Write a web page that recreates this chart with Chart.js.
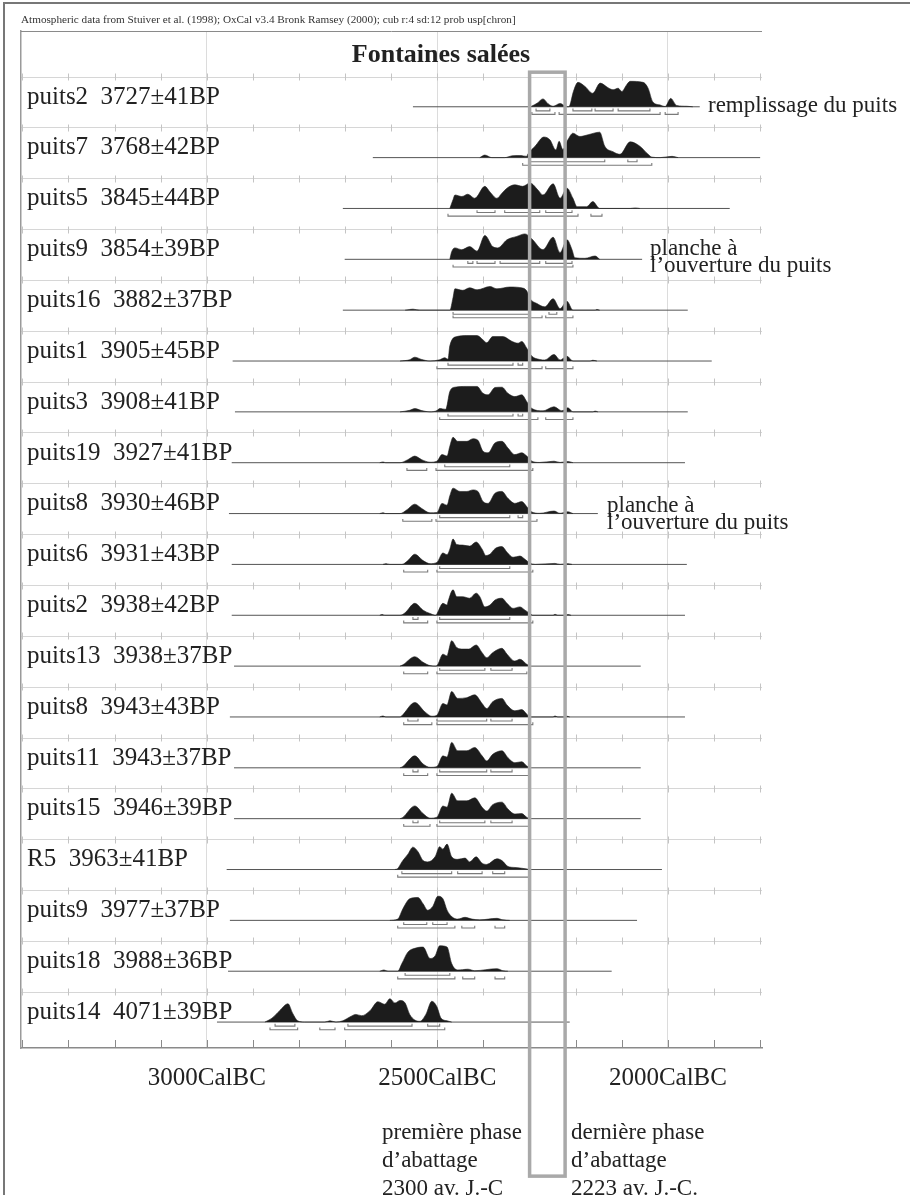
<!DOCTYPE html>
<html>
<head>
<meta charset="utf-8">
<script src="https://cdn.jsdelivr.net/npm/chart.js@4.4.1/dist/chart.umd.min.js"></script>
<style>
body { margin: 0; background: #fff; }
#wrap { position: relative; width: 910px; height: 1195px; overflow: hidden; font-family: "Liberation Serif", "Times New Roman", serif; color: #222; }
#edge { position: absolute; left: 3px; top: 2px; width: 1000px; height: 1300px; border-left: 2px solid #777; border-top: 2px solid #777; }
#chart { position: absolute; left: 0; top: 0; }
.t { position: absolute; white-space: nowrap; line-height: 1; }
.two { position: absolute; white-space: nowrap; font-size: 23px; line-height: 17px; }
.low { position: absolute; white-space: nowrap; font-size: 23px; line-height: 28px; }
</style>
</head>
<body>
<div id="wrap">
  <div id="edge"></div>
  <canvas id="chart" width="910" height="1195"></canvas>
  <div class="t" style="left:21px;top:14px;font-size:11.2px;color:#333;">Atmospheric data from Stuiver et al. (1998); OxCal v3.4 Bronk Ramsey (2000); cub r:4 sd:12 prob usp[chron]</div>
  <div class="t" style="left:441px;top:41px;font-size:26px;font-weight:bold;transform:translateX(-50%);">Fontaines salées</div>
  <div class="t" style="left:708px;top:93px;font-size:23px;">remplissage du puits</div>
  <div class="two" style="left:650px;top:239px;">planche à<br>l’ouverture du puits</div>
  <div class="two" style="left:607px;top:496px;">planche à<br>l’ouverture du puits</div>
  <div class="low" style="left:382px;top:1118px;">première phase<br>d’abattage<br>2300 av. J.-C</div>
  <div class="low" style="left:571px;top:1118px;">dernière phase<br>d’abattage<br>2223 av. J.-C.</div>
</div>
<script>
/* rows, top to bottom */
const rowNames = ['puits2', 'puits7', 'puits5', 'puits9', 'puits16', 'puits1', 'puits3', 'puits19', 'puits8', 'puits6',
                  'puits2', 'puits13', 'puits8', 'puits11', 'puits15', 'R5', 'puits9', 'puits18', 'puits14'];
const rowDates = ['3727±41BP', '3768±42BP', '3845±44BP', '3854±39BP', '3882±37BP', '3905±45BP', '3908±41BP', '3927±41BP', '3930±46BP', '3931±43BP',
                  '3938±42BP', '3938±37BP', '3943±43BP', '3943±37BP', '3946±39BP', '3963±41BP', '3977±37BP', '3988±36BP', '4071±39BP'];

/* extent of the thin line of each row (cal BC) */
const lineFrom = [2553, 2640, 2705, 2701, 2705, 2944, 2939, 2946, 2952, 2946, 2946, 2941, 2950, 2941, 2941, 2957, 2950, 2954, 2978];
const lineTo   = [1931, 1800, 1866, 2056, 1957, 1905, 1957, 1963, 2152, 1959, 1963, 2059, 1963, 2059, 2059, 2013, 2067, 2122, 2213];

/* calibrated distributions: [year BC, relative probability] */
const curve01 = [[2300,0],[2296,0.02],[2283,0.15],[2271,0.31],[2260,0.12],[2249,0.02],[2234,0.13],[2222,0.02],[2217,0],[2213,0.05],[2205,0.6],[2195,0.96],[2180,0.8],[2163,0.53],[2147,0.93],[2130,0.75],[2119,0.67],[2108,0.73],[2100,0.6],[2090,0.85],[2082,1.0],[2054,0.96],[2043,0.73],[2033,0.2],[2017,0.07],[2006,0.01],[1994,0.33],[1981,0.05],[1959,0.02],[1946,0]];
const curve02 = [[2408,0],[2397,0.1],[2382,0],[2354,0],[2338,0.07],[2321,0.08],[2306,0.05],[2304,0.13],[2288,0.45],[2269,0.81],[2256,0.7],[2243,0.3],[2236,0.64],[2228,0.32],[2217,0.7],[2206,0.96],[2191,0.83],[2173,0.9],[2148,1.0],[2137,0.45],[2119,0.23],[2104,0.13],[2082,0.62],[2061,0.45],[2043,0.13],[2035,0.02],[2017,0],[1991,0.05],[1978,0]];
const curve03 = [[2473,0],[2466,0.35],[2462,0.53],[2447,0.47],[2434,0.56],[2419,0.4],[2397,0.87],[2386,0.65],[2371,0.4],[2360,0.6],[2349,0.8],[2332,0.93],[2315,0.87],[2299,1.0],[2282,0.73],[2271,0.53],[2249,0.97],[2234,0.4],[2219,0.8],[2206,0.4],[2197,0.07],[2176,0.07],[2163,0.27],[2148,0],[2082,0],[2071,0.02],[2061,0]];
const curve04 = [[2473,0],[2469,0.3],[2462,0.45],[2447,0.38],[2430,0.5],[2414,0.32],[2397,0.94],[2380,0.5],[2369,0.45],[2349,0.77],[2328,0.9],[2310,1.0],[2295,0.8],[2271,0.38],[2249,0.87],[2234,0.26],[2219,0.77],[2208,0.38],[2202,0.06],[2180,0.04],[2158,0.13],[2148,0]];
const curve05 = [[2570,0],[2553,0.04],[2538,0],[2473,0],[2466,0.5],[2462,0.84],[2445,0.78],[2430,0.88],[2414,0.8],[2386,0.93],[2371,0.84],[2343,0.91],[2315,0.87],[2306,0.75],[2299,0.45],[2284,0.26],[2267,0.13],[2249,0.45],[2234,0.06],[2219,0.35],[2206,0],[2158,0],[2154,0.03],[2148,0]];
const curve06 = [[2581,0],[2560,0.05],[2549,0.15],[2534,0.06],[2516,0],[2495,0.05],[2484,0.13],[2477,0.07],[2473,0.6],[2458,0.96],[2436,1.0],[2414,1.0],[2401,0.83],[2393,0.72],[2380,0.96],[2358,0.96],[2338,0.77],[2325,0.7],[2317,0.77],[2306,0.5],[2295,0.19],[2278,0.06],[2267,0.04],[2247,0.26],[2234,0.04],[2219,0.19],[2206,0],[2169,0],[2163,0.03],[2154,0]];
const curve07 = [[2581,0],[2560,0.06],[2549,0.13],[2534,0.05],[2516,0],[2501,0.05],[2495,0.13],[2482,0.1],[2473,0.8],[2462,0.97],[2436,1.0],[2414,1.0],[2401,0.73],[2390,0.67],[2375,0.96],[2360,0.97],[2347,0.73],[2332,0.6],[2317,0.67],[2306,0.4],[2295,0.13],[2271,0.04],[2247,0.2],[2230,0.04],[2217,0.16],[2206,0],[2163,0],[2158,0.03],[2152,0]];
const curve08 = [[2625,0],[2618,0.03],[2612,0],[2581,0],[2564,0.12],[2549,0.26],[2534,0.12],[2516,0.02],[2501,0.06],[2490,0.32],[2479,0.26],[2473,0.65],[2466,1.0],[2456,0.84],[2436,0.84],[2423,0.94],[2412,0.88],[2401,0.45],[2390,0.39],[2375,0.78],[2360,0.84],[2347,0.58],[2332,0.32],[2317,0.39],[2306,0.26],[2295,0.06],[2278,0.01],[2247,0.06],[2234,0.01],[2217,0.05],[2206,0]];
const curve09 = [[2625,0],[2618,0.03],[2612,0],[2581,0],[2566,0.15],[2549,0.37],[2534,0.2],[2516,0.03],[2501,0.04],[2490,0.4],[2479,0.33],[2473,0.7],[2466,1.0],[2451,0.87],[2436,0.87],[2423,0.93],[2412,0.87],[2401,0.47],[2390,0.4],[2375,0.8],[2360,0.87],[2347,0.6],[2332,0.4],[2317,0.47],[2306,0.27],[2295,0.06],[2278,0.01],[2247,0.1],[2234,0.01],[2217,0.07],[2206,0]];
const curve10 = [[2618,0],[2612,0.03],[2603,0],[2577,0],[2564,0.15],[2549,0.4],[2531,0.15],[2516,0.03],[2501,0.08],[2488,0.45],[2479,0.38],[2473,0.6],[2466,1.0],[2458,0.78],[2445,0.76],[2430,0.72],[2416,0.88],[2403,0.6],[2395,0.35],[2386,0.4],[2375,0.62],[2360,0.7],[2349,0.48],[2336,0.28],[2321,0.33],[2310,0.2],[2299,0.05],[2288,0],[2245,0.04],[2234,0],[2217,0.03],[2208,0]];
const curve11 = [[2625,0],[2620,0.03],[2614,0],[2581,0],[2570,0.1],[2549,0.47],[2531,0.2],[2516,0.07],[2503,0],[2499,0.13],[2488,0.47],[2479,0.4],[2477,0.53],[2466,1.0],[2458,0.73],[2445,0.73],[2430,0.67],[2416,0.87],[2408,0.73],[2397,0.33],[2386,0.4],[2375,0.6],[2360,0.67],[2349,0.47],[2336,0.27],[2321,0.33],[2310,0.2],[2299,0.07],[2293,0],[2249,0],[2245,0.04],[2239,0],[2221,0],[2217,0.03],[2210,0]];
const curve12 = [[2581,0],[2575,0.05],[2549,0.37],[2531,0.15],[2516,0.02],[2503,0],[2499,0.07],[2488,0.47],[2479,0.4],[2477,0.5],[2469,1.0],[2458,0.73],[2445,0.67],[2432,0.67],[2416,0.83],[2403,0.53],[2393,0.33],[2380,0.53],[2360,0.7],[2349,0.47],[2332,0.2],[2321,0.27],[2306,0.07],[2299,0]];
const curve13 = [[2625,0],[2618,0.04],[2612,0],[2581,0],[2577,0.05],[2549,0.57],[2527,0.2],[2512,0.03],[2501,0.07],[2488,0.53],[2479,0.47],[2477,0.55],[2469,1.0],[2456,0.73],[2436,0.76],[2419,0.87],[2403,0.53],[2393,0.33],[2380,0.6],[2360,0.73],[2349,0.47],[2332,0.24],[2317,0.29],[2306,0.11],[2299,0],[2249,0],[2245,0.04],[2239,0],[2223,0],[2219,0.03],[2213,0]];
const curve14 = [[2581,0],[2575,0.05],[2549,0.47],[2531,0.15],[2516,0.02],[2501,0.05],[2488,0.47],[2479,0.42],[2477,0.5],[2469,1.0],[2456,0.67],[2436,0.67],[2419,0.8],[2403,0.47],[2393,0.27],[2380,0.53],[2360,0.67],[2347,0.4],[2332,0.2],[2317,0.24],[2306,0.07],[2299,0]];
const curve15 = [[2581,0],[2575,0.05],[2549,0.5],[2531,0.2],[2516,0.02],[2501,0.06],[2488,0.5],[2479,0.45],[2477,0.52],[2469,1.0],[2456,0.7],[2436,0.7],[2419,0.82],[2403,0.45],[2393,0.3],[2380,0.55],[2360,0.65],[2347,0.38],[2332,0.18],[2317,0.2],[2306,0.05],[2299,0]];
const curve16 = [[2592,0],[2586,0.04],[2577,0.3],[2564,0.6],[2553,0.88],[2542,0.7],[2531,0.35],[2521,0.3],[2505,0.5],[2495,0.9],[2488,0.8],[2479,1.0],[2469,0.5],[2456,0.4],[2440,0.45],[2430,0.3],[2416,0.5],[2403,0.25],[2393,0.2],[2371,0.42],[2360,0.35],[2347,0.12],[2332,0.08],[2317,0.05],[2299,0]];
const curve17 = [[2603,0],[2586,0.05],[2575,0.45],[2560,0.85],[2542,0.9],[2531,0.65],[2521,0.4],[2510,0.55],[2499,0.95],[2488,0.85],[2479,0.4],[2469,0.15],[2456,0.05],[2440,0.12],[2425,0.05],[2408,0.02],[2371,0.08],[2358,0.02],[2343,0]];
const curve18 = [[2625,0],[2616,0.05],[2607,0],[2586,0],[2577,0.3],[2564,0.75],[2549,0.9],[2531,0.95],[2516,0.5],[2505,0.6],[2495,1.0],[2479,0.95],[2469,0.3],[2456,0.05],[2434,0.08],[2419,0.02],[2371,0.1],[2358,0.02],[2347,0]];
const curve19 = [[2874,0],[2859,0.15],[2842,0.45],[2824,0.72],[2814,0.35],[2803,0.05],[2788,0],[2744,0],[2733,0.05],[2720,0],[2705,0.05],[2690,0.2],[2677,0.3],[2664,0.25],[2646,0.45],[2629,0.8],[2614,0.7],[2603,0.92],[2592,0.75],[2581,0.85],[2570,0.75],[2560,0.3],[2549,0.08],[2538,0.03],[2525,0.3],[2512,0.82],[2501,0.6],[2492,0.15],[2479,0.05],[2469,0]];
const curves = [curve01, curve02, curve03, curve04, curve05, curve06, curve07, curve08, curve09, curve10,
                curve11, curve12, curve13, curve14, curve15, curve16, curve17, curve18, curve19];

/* 68.2% and 95.4% ranges [from, to] cal BC */
const range68 = [
  [[2286,2256],[2206,2165],[2158,2119],[2108,2039]],
  [[2299,2137],[2087,2067]],
  [[2414,2375],[2354,2278],[2265,2208]],
  [[2434,2423],[2414,2375],[2364,2278],[2265,2208]],
  [[2466,2299],[2258,2241]],
  [[2477,2336],[2325,2315]],
  [[2477,2336],[2325,2315]],
  [[2484,2343]],
  [[2495,2343],[2325,2315]],
  [[2495,2343]],
  [[2553,2542],[2495,2343]],
  [[2495,2397],[2384,2338]],
  [[2564,2542],[2501,2393],[2384,2338]],
  [[2553,2542],[2495,2393],[2384,2338]],
  [[2553,2542],[2495,2397],[2384,2338]],
  [[2577,2469],[2456,2403],[2380,2354]],
  [[2573,2523],[2510,2479]],
  [[2570,2473]],
  [[2852,2809],[2694,2555],[2521,2495]]
];
const range95 = [
  [[2295,2245],[2236,2017],[2006,1978]],
  [[2315,2035]],
  [[2477,2195],[2167,2143]],
  [[2466,2206]],
  [[2466,2273],[2265,2206]],
  [[2501,2273],[2265,2206]],
  [[2495,2282],[2265,2206]],
  [[2566,2523],[2503,2293]],
  [[2575,2512],[2503,2284]],
  [[2573,2521],[2501,2293]],
  [[2573,2521],[2501,2293]],
  [[2573,2521],[2501,2306]],
  [[2573,2512],[2501,2293]],
  [[2573,2521],[2501,2299]],
  [[2573,2516],[2501,2299]],
  [[2586,2299]],
  [[2586,2462],[2447,2419],[2375,2354]],
  [[2586,2462],[2445,2419],[2375,2354]],
  [[2863,2803],[2755,2722],[2701,2484]]
];

/* axis */
const axisMin = 1796, axisMax = 3403;
const labelYears = [3000, 2500, 2000];
const phaseYears = [2300, 2223];

/* layout in row units (y axis runs 0..20, top to bottom) */
const ROW0 = 1.49, LAB0 = 1.298, SEP0 = 0.905, HSCALE = 0.5;

const datasets = [];
curves.forEach(function (c, i) {
    const base = ROW0 + i;
    datasets.push({
        data: c.map(p => ({ x: p[0], y: base - p[1] * HSCALE })),
        fill: { value: base },
        backgroundColor: '#1c1c1c',
        borderColor: '#1c1c1c',
        borderWidth: 0.6,
        pointRadius: 0,
        cubicInterpolationMode: 'monotone',
        order: 1
    });
    datasets.push({
        data: [{ x: lineFrom[i], y: base }, { x: lineTo[i], y: base }],
        borderColor: '#555',
        borderWidth: 1,
        pointRadius: 0,
        fill: false,
        order: 3
    });
    [[range68[i], 0.08], [range95[i], 0.15]].forEach(function (r) {
        const yl = base + r[1];
        const pts = [];
        r[0].forEach(function (s) {
            pts.push({ x: s[0], y: yl - 0.045 }, { x: s[0], y: yl }, { x: s[1], y: yl }, { x: s[1], y: yl - 0.045 }, { x: s[1], y: null });
        });
        datasets.push({
            data: pts,
            borderColor: '#7a7a7a',
            borderWidth: 1.1,
            pointRadius: 0,
            fill: false,
            spanGaps: false,
            order: 2
        });
    });
});

/* row separators with small century marks, inner ticks on the bottom axis, top frame line */
const frameMarks = {
    id: 'frameMarks',
    beforeDatasetsDraw: function (chart) {
        const ctx = chart.ctx, a = chart.chartArea, x = chart.scales.x, y = chart.scales.y;
        ctx.save();
        ctx.lineWidth = 1;
        ctx.strokeStyle = '#c4c4c4';
        ctx.beginPath();
        for (let i = 0; i < rowNames.length; i++) {
            const py = Math.round(y.getPixelForValue(SEP0 + i)) + 0.5;
            for (let yr = 1800; yr <= 3400; yr += 100) {
                const px = Math.round(x.getPixelForValue(yr)) + 0.5;
                ctx.moveTo(px, py - 4);
                ctx.lineTo(px, py + 3);
            }
        }
        ctx.stroke();
        ctx.strokeStyle = '#8a8a8a';
        ctx.beginPath();
        for (let yr = 1800; yr <= 3400; yr += 100) {
            const px = Math.round(x.getPixelForValue(yr)) + 0.5;
            ctx.moveTo(px, a.bottom);
            ctx.lineTo(px, a.bottom - 8);
        }
        ctx.moveTo(a.left, a.top + 0.5);
        ctx.lineTo(a.right, a.top + 0.5);
        ctx.stroke();
        ctx.restore();
    }
};

/* grey frame round the two felling phases */
const phaseBox = {
    id: 'phaseBox',
    afterDatasetsDraw: function (chart) {
        const ctx = chart.ctx, x = chart.scales.x, y = chart.scales.y;
        const x1 = x.getPixelForValue(phaseYears[0]), x2 = x.getPixelForValue(phaseYears[1]);
        const y1 = y.getPixelForValue(0.81), y2 = y.getPixelForValue(22.52);
        ctx.save();
        ctx.strokeStyle = '#a9a9a9';
        ctx.lineWidth = 3.5;
        ctx.strokeRect(x1, y1, x2 - x1, y2 - y1);
        ctx.restore();
    }
};

new Chart(document.getElementById('chart').getContext('2d'), {
    type: 'line',
    data: { datasets: datasets },
    options: {
        responsive: false,
        animation: false,
        events: [],
        layout: { padding: { left: 21, top: 31, right: 148, bottom: 102 } },
        plugins: { legend: { display: false }, tooltip: { enabled: false } },
        scales: {
            x: {
                type: 'linear',
                position: 'bottom',
                reverse: true,
                min: axisMin,
                max: axisMax,
                afterFit: function (axis) { axis.height = 45; },
                afterBuildTicks: function (axis) {
                    const t = [];
                    for (let yr = 1800; yr <= 3400; yr += 100) t.push({ value: yr });
                    axis.ticks = t;
                },
                grid: {
                    drawTicks: false,
                    color: function (c) { return c.tick && labelYears.indexOf(c.tick.value) >= 0 ? '#dcdcdc' : 'rgba(0,0,0,0)'; }
                },
                border: { color: '#8a8a8a', width: 1.5 },
                ticks: {
                    autoSkip: false,
                    maxRotation: 0,
                    minRotation: 0,
                    padding: 15,
                    color: '#222',
                    font: { family: 'Liberation Serif', size: 25 },
                    callback: function (v) { return labelYears.indexOf(v) >= 0 ? v + 'CalBC' : ''; }
                }
            },
            y: {
                type: 'linear',
                reverse: true,
                min: 0,
                max: 20,
                afterFit: function (axis) { axis.width = 0; },
                afterBuildTicks: function (axis) {
                    axis.ticks = rowNames.map((n, i) => ({ value: SEP0 + i }));
                },
                grid: { drawTicks: false, color: '#d6d6d6' },
                border: { color: '#9a9a9a', width: 1.5 },
                ticks: { display: false }
            },
            yl: {
                type: 'linear',
                position: 'left',
                reverse: true,
                min: 0,
                max: 20,
                afterFit: function (axis) { axis.width = 0; },
                afterBuildTicks: function (axis) {
                    axis.ticks = rowNames.map((n, i) => ({ value: LAB0 + i }));
                },
                grid: { display: false, drawTicks: false },
                border: { display: false },
                ticks: {
                    autoSkip: false,
                    mirror: true,
                    padding: 6,
                    color: '#222',
                    font: { family: 'Liberation Serif', size: 25 },
                    callback: function (v, i) { return rowNames[i] + '  ' + rowDates[i]; }
                }
            }
        }
    },
    plugins: [frameMarks, phaseBox]
});
</script>
</body>
</html>
